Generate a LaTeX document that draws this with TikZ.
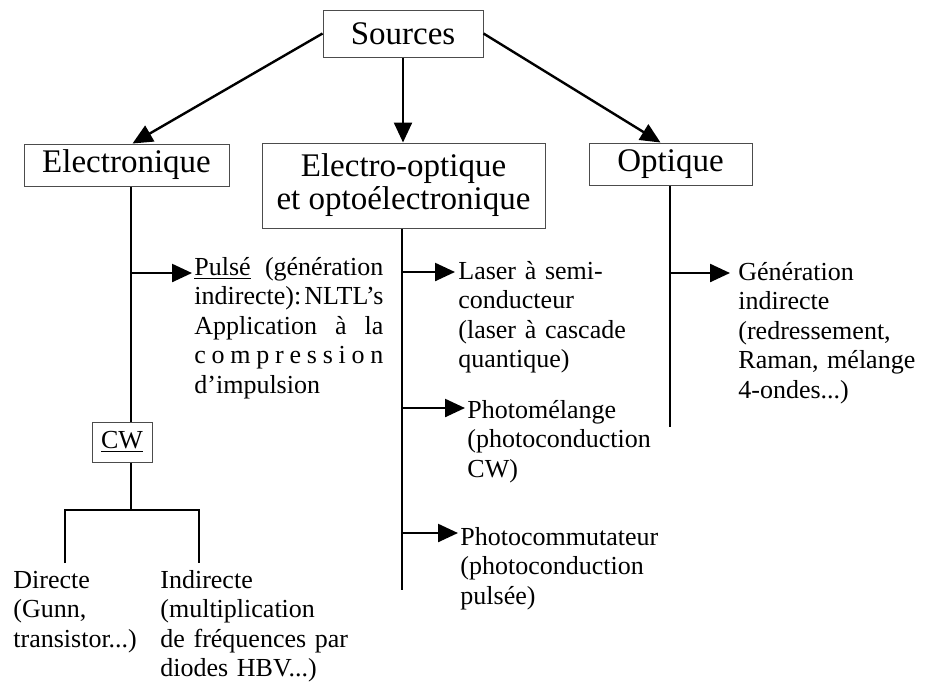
\documentclass[tikz,border=0pt]{standalone}
\usepackage{fontspec}
\setmainfont{Liberation Serif}
\usepackage{tikz}
\usetikzlibrary{positioning,arrows.meta}

\begin{document}
\begin{tikzpicture}[
  x=0.5pt, y=-0.5pt,
  box/.style={draw=black!70, line width=0.5pt, inner xsep=4pt, inner ysep=2pt, align=center, font=\fontsize{16.5}{16.5}\selectfont},
  txt/.style={inner sep=0pt, anchor=base west, align=left, text width=105pt, font=\fontsize{13}{14.75}\selectfont},
  trunk/.style={line width=1.2pt},
  arr/.style={-{Triangle[length=10pt, width=9pt]}, line width=1.2pt}]
  \useasboundingbox (0,0) rectangle (925,682);
  \node[box, minimum width=80pt, minimum height=23.5pt] (src) at (403,33.5) {Sources};
  \node[box, minimum width=102.5pt, minimum height=21pt] (elec) at (126.5,165) {Electronique};
  \node[box, minimum width=141.5pt, minimum height=42.5pt] (eo) at (403.5,185.5) {Electro-optique\\et optoélectronique};
  \node[box, minimum width=81.5pt, minimum height=21pt] (opt) at (670.5,164) {Optique};
  \node[box, minimum width=30pt, minimum height=20pt, font=\fontsize{13}{14.75}\selectfont] (cw) at (122,442) {\underline{CW}};
  \draw[arr] (src.west) -- ([xshift=3pt]elec.north);
  \draw[arr] (src.south) -- (src.south |- eo.north);
  \draw[arr] (src.east) -- ([xshift=-5pt]opt.north);
  % electronique
  \node[txt, text width=94.5pt] (pulse) at (194,275) {\underline{Pulsé}\hfill(génération\\ indirecte):\hfill NLTL’s\\ Application\hfill à\hfill la\\ c\hfill o\hfill m\hfill p\hfill r\hfill e\hfill s\hfill s\hfill i\hfill o\hfill n\\ d’impulsion};
  \node[txt] (direct) at (13,588) {Directe\\(Gunn,\\transistor...)};
  \node[txt] (indirect) at (160,588) {Indirecte\\(multiplication\\de fréquences par\\diodes HBV...)};
  \coordinate (e1) at (131,273);
  \coordinate (bar) at (131,510);
  \coordinate (dl) at (65,563);
  \coordinate (dr) at (199,563);
  \draw[trunk] (elec.south -| e1) -- (cw.north -| e1);
  \draw[arr] (e1) -- ([xshift=-1pt]e1 -| pulse.west);
  \draw[trunk] (cw.south -| bar) -- (bar);
  \draw[trunk] (dl) |- (bar) -| (dr);
  % electro-optique
  \node[txt] (laser) at (458,279) {Laser à semi-\\conducteur\\(laser à cascade\\quantique)};
  \node[txt] (mixing) at (467,418) {Photomélange\\(photoconduction\\CW)};
  \node[txt] (switch) at (460,545) {Photocommutateur\\(photoconduction\\pulsée)};
  \coordinate (o1) at (402,272);
  \coordinate (o2) at (402,408);
  \coordinate (o3) at (402,533);
  \coordinate (oend) at (402,590);
  \draw[trunk] (eo.south -| oend) -- (oend);
  \draw[arr] (o1) -- ([xshift=-1.5pt]o1 -| laser.west);
  \draw[arr] (o2) -- ([xshift=-1pt]o2 -| mixing.west);
  \draw[arr] (o3) -- ([xshift=-1pt]o3 -| switch.west);
  % optique
  \node[txt] (optgen) at (738,280) {Génération\\indirecte\\(redressement,\\Raman, mélange\\4-ondes...)};
  \coordinate (p1) at (670,273);
  \coordinate (pend) at (670,427);
  \draw[trunk] (opt.south -| pend) -- (pend);
  \draw[arr] (p1) -- ([xshift=-4pt]p1 -| optgen.west);
\end{tikzpicture}
\end{document}
